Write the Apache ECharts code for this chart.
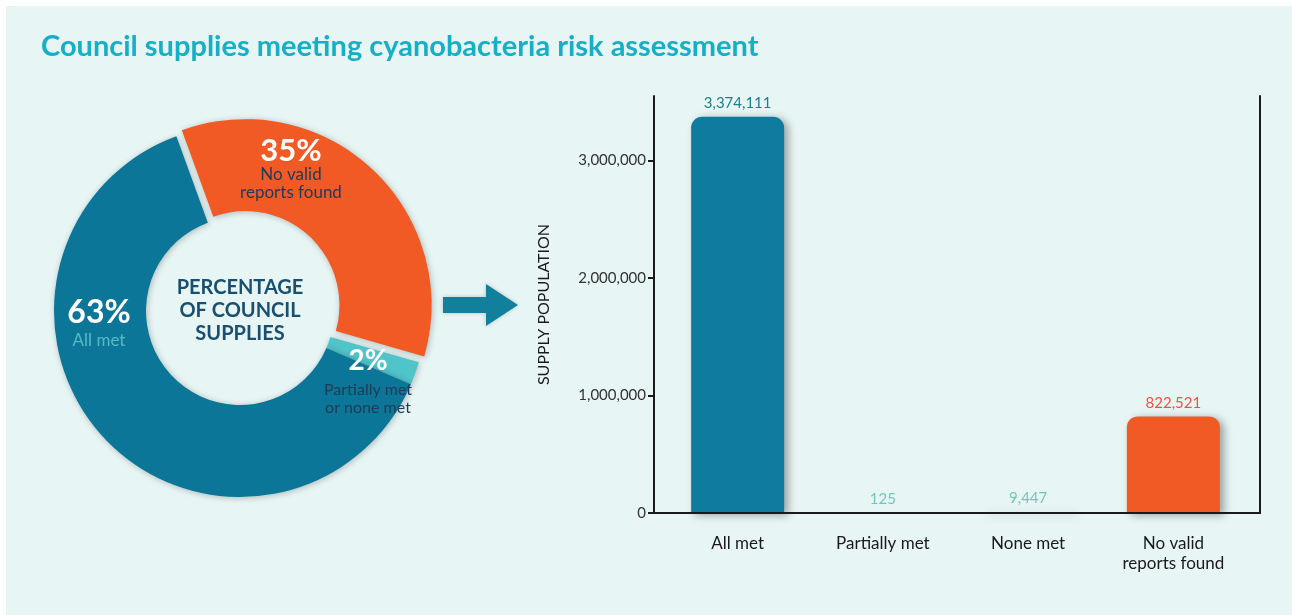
<!DOCTYPE html>
<html>
<head>
<meta charset="utf-8">
<script src="https://cdn.jsdelivr.net/npm/echarts@6/dist/echarts.min.js"></script>
<style>
html,body{margin:0;padding:0;background:#ffffff;}
#chart{width:1292px;height:615px;}
</style>
</head>
<body>
<div id="chart"></div>
<script>
// ---- data ----
const titleText = 'Council supplies meeting cyanobacteria risk assessment';
const pieNames = ['No valid reports found', 'Partially met or none met', 'All met'];
const piePct = [35, 2, 63];
const pieSubLabels = ['No valid\nreports found', 'Partially met\nor none met', 'All met'];
const centerLabel = 'PERCENTAGE\nOF COUNCIL\nSUPPLIES';
const barCategories = ['All met', 'Partially met', 'None met', 'No valid\nreports found'];
const barValues = [3374111, 125, 9447, 822521];
const yTicks = [0, 1000000, 2000000, 3000000];
const yAxisName = 'SUPPLY POPULATION';

const BLUE = '#0c7698', ORANGE = '#f15a24', TEAL = '#4fc4c9';
const BAR_BLUE = '#0f7c9f';
const fmt = v => v.toLocaleString('en-US');

const chart = echarts.init(document.getElementById('chart'), null, {renderer: 'canvas'});

const pieColors = [ORANGE, TEAL, BLUE];
const barColors = [BAR_BLUE, '#6cc7b8', '#6cc7b8', ORANGE];
const barLabelColors = ['#1b7f8d', '#72c6b6', '#72c6b6', '#f0533a'];

const option = {
  backgroundColor: '#ffffff',
  animation: false,
  title: {
    text: titleText, left: 36, top: 27,
    textStyle: {fontFamily: 'Lato', fontWeight: 'bold', fontSize: 29, color: '#17afc6'}
  },
  grid: {left: 665, right: 46, top: 96, bottom: 102},
  xAxis: {
    type: 'category', data: barCategories,
    axisLine: {show: false}, axisTick: {show: false},
    axisLabel: {color: '#1a1a1a', fontFamily: 'Lato', fontSize: 17, margin: 21, lineHeight: 20}
  },
  yAxis: [{
    type: 'value', min: 0, max: 3550000, interval: 1000000, offset: 11,
    name: yAxisName, nameLocation: 'middle', nameGap: 102,
    nameTextStyle: {color: '#1a1a1a', fontFamily: 'Lato', fontSize: 16},
    axisLine: {show: true, lineStyle: {color: '#1a1a1a', width: 2}},
    axisTick: {show: true, length: 6, lineStyle: {color: '#1a1a1a', width: 2}, customValues: yTicks},
    axisLabel: {color: '#333333', fontFamily: 'Lato', fontSize: 15, margin: 8, customValues: yTicks,
      formatter: v => fmt(v)},
    splitLine: {show: false}
  }, {
    type: 'value', min: 0, max: 3550000, position: 'right', offset: 14,
    axisLine: {show: true, lineStyle: {color: '#1a1a1a', width: 2}},
    axisTick: {show: false}, axisLabel: {show: false}, splitLine: {show: false}
  }],
  series: [{
    type: 'pie', center: [240, 311], radius: [94, 186], startAngle: 110, clockwise: true,
    selectedMode: 'single', selectedOffset: 8, silent: true,
    label: {show: false}, labelLine: {show: false},
    emphasis: {disabled: true},
    itemStyle: {shadowBlur: 6, shadowColor: 'rgba(0,0,0,0.25)', shadowOffsetX: 1, shadowOffsetY: 1},
    data: pieNames.map((n, i) => ({name: n, value: piePct[i], selected: i === 0, itemStyle: {color: pieColors[i]}}))
  }, {
    type: 'bar', barWidth: 93, silent: true,
    data: barValues.map((v, i) => ({
      value: v,
      itemStyle: {color: barColors[i], borderRadius: [11, 11, 0, 0],
        shadowBlur: 8, shadowColor: 'rgba(0,0,0,0.35)', shadowOffsetX: 4, shadowOffsetY: 2},
      label: {color: barLabelColors[i]}
    })),
    label: {show: true, position: 'top', distance: 6, fontFamily: 'Lato', fontSize: 15,
      formatter: p => fmt(p.value)}
  }]
};
chart.setOption(option);

// decorations & donut labels (text built from the data)
const y0 = chart.convertToPixel({yAxisIndex: 0}, 0);
const pctTxt = i => piePct[i] + '%';
chart.setOption({
  graphic: [
    {type: 'rect', z: -10, shape: {x: 6, y: 6, width: 1290, height: 615}, style: {fill: '#e7f5f5'}},
    {type: 'line', z: 10, shape: {x1: 653, y1: y0, x2: 1261, y2: y0}, style: {stroke: '#1a1a1a', lineWidth: 2}},
    {type: 'polygon', z: 5, shape: {points: [[443, 297], [486, 297], [486, 284], [518, 305], [486, 326], [486, 313], [443, 313]]},
      style: {fill: '#12809c', shadowBlur: 4, shadowColor: 'rgba(0,0,0,0.2)'}},
    {type: 'text', z: 20, x: 240, y: 311, style: {text: centerLabel, fill: '#1b4f70', font: 'bold 20px Lato',
      align: 'center', verticalAlign: 'middle', lineHeight: 23}},
    {type: 'text', z: 20, x: 99, y: 313, style: {text: pctTxt(2), fill: '#ffffff', font: 'bold 32px Lato', align: 'center', verticalAlign: 'middle'}},
    {type: 'text', z: 20, x: 99, y: 341, style: {text: pieSubLabels[2], fill: '#58b9c9', font: '17px Lato', align: 'center', verticalAlign: 'middle'}},
    {type: 'text', z: 20, x: 291, y: 151, style: {text: pctTxt(0), fill: '#ffffff', font: 'bold 31px Lato', align: 'center', verticalAlign: 'middle'}},
    {type: 'text', z: 20, x: 291, y: 184, style: {text: pieSubLabels[0], fill: '#1e3a55', font: '17px Lato', align: 'center', verticalAlign: 'middle', lineHeight: 18}},
    {type: 'text', z: 20, x: 368, y: 361, style: {text: pctTxt(1), fill: '#ffffff', font: 'bold 28px Lato', align: 'center', verticalAlign: 'middle'}},
    {type: 'text', z: 20, x: 368, y: 399, style: {text: pieSubLabels[1], fill: '#1e3a55', font: '16px Lato', align: 'center', verticalAlign: 'middle', lineHeight: 18}}
  ]
});
</script>
</body>
</html>
